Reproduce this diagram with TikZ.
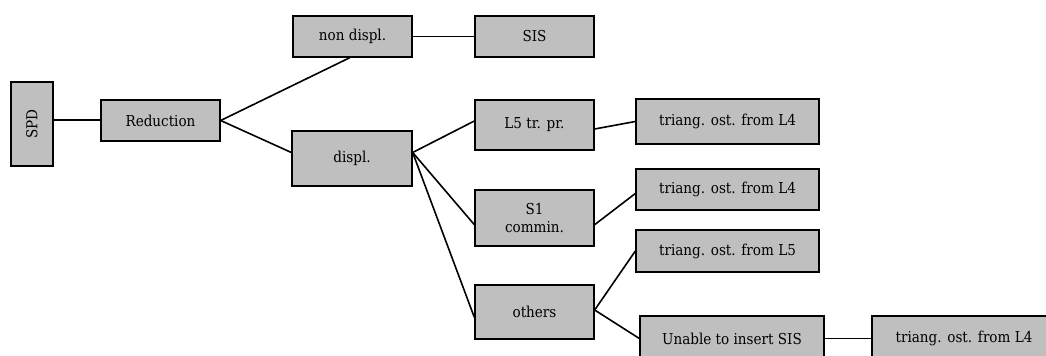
\documentclass[tikz,border=0pt]{standalone}
\usepackage{fontspec}
\setmainfont{DejaVu Serif Condensed}
\usepackage{tikz}

\begin{document}
\begin{tikzpicture}[x=0.75pt, y=-0.75pt,
    box/.style={draw, line width=1pt, fill=black!25, inner sep=0pt, align=center,
        font=\fontsize{11.3}{13}\selectfont},
    narrow/.style={box, minimum width=89.25pt},
    wide/.style={box, minimum width=137.25pt},
    link/.style={line width=1.2pt}]
\useasboundingbox (0, 0) rectangle (1046, 356);

% Root
\node[box, minimum width=31.5pt, minimum height=63pt] (spd) at (32, 124) {};
\node[rotate=90, font=\fontsize{11.3}{13}\selectfont] (spdtext) at (spd.center) {SPD};
\node[narrow, minimum height=30.75pt] (reduction) at (160.5, 120.5) {Reduction};
\draw[link] ([yshift=3pt]spd.east) -- ([yshift=0.4pt]reduction.west);

% First split
\node[narrow, minimum height=30.75pt] (nondispl) at (352.5, 36.5) {non displ.};
\node[narrow, minimum height=30.75pt] (sis) at (534.5, 36.5) {SIS};
\node[box, minimum width=90pt, minimum height=41.25pt] (displ) at (352, 158.5) {displ.};
\draw[link] (reduction.east) -- ([xshift=-2pt]nondispl.south);
\draw[link] (reduction.east) -- ([yshift=4.5pt]displ.west);
\draw[link] (nondispl.east) -- (sis.west);

% Displaced cases
\node[narrow, minimum height=37.5pt] (lfive) at (534.5, 125) {L5 tr. pr.};
\node[narrow, minimum height=42pt] (sone) at (534.5, 218) {S1\\commin.};
\node[narrow, minimum height=40.5pt] (others) at (534.5, 312) {others};
\draw[link] ([yshift=4.5pt]displ.east) -- ([yshift=3pt]lfive.west);
\draw[link] ([yshift=4.5pt]displ.east) -- ([yshift=-5pt]sone.west);
\draw[link] ([yshift=4.5pt]displ.east) -- ([yshift=-4pt]others.west);

% Osteotomies
\node[wide, minimum height=33.75pt] (triangA) at (727.5, 121.5) {triang. ost. from L4};
\node[wide, minimum height=30.75pt] (triangB) at (727.5, 189.5) {triang. ost. from L4};
\node[wide, minimum height=31.5pt] (triangC) at (727.5, 251) {triang. ost. from L5};
\draw[link] ([yshift=-3pt]lfive.east) -- (triangA.west);
\draw[link] ([yshift=-5pt]sone.east) -- ([yshift=-3pt]triangB.west);
\draw[link] ([yshift=1.5pt]others.east) -- (triangC.west);

% Failed insertion
\node[box, minimum width=138pt, minimum height=33.75pt] (unable) at (732, 338.5) {Unable to insert SIS};
\node[box, minimum width=138pt, minimum height=33.75pt] (triangD) at (964, 338.5) {triang. ost. from L4};
\draw[link] ([yshift=1.5pt]others.east) -- (unable.west);
\draw[link] (unable.east) -- (triangD.west);

\end{tikzpicture}
\end{document}
